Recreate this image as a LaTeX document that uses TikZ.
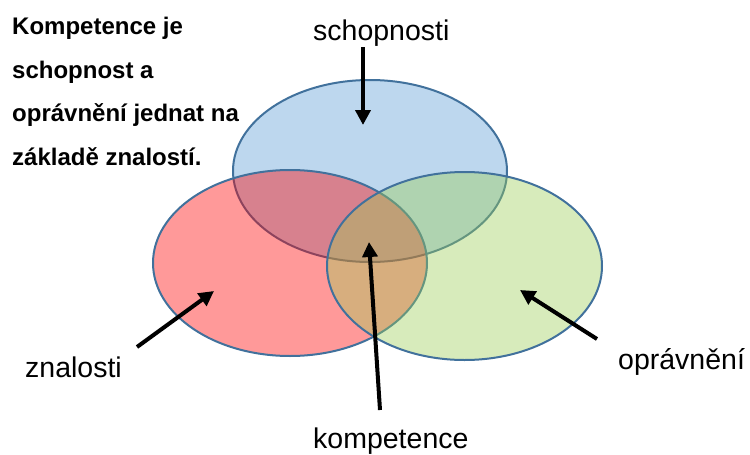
\documentclass[tikz,border=0pt]{standalone}
\usepackage{fontspec}
\setmainfont{Liberation Sans}
\usetikzlibrary{arrows.meta}
\definecolor{setline}{RGB}{65,113,156}
\definecolor{setblue}{RGB}{189,215,238}
\definecolor{setgreen}{RGB}{155,205,85}
\tikzset{
	setring/.style={line width=2pt, draw=setline},
	pointer/.style={line width=4pt, -{Triangle[length=15pt,width=15pt]}},
	label/.style={anchor=base west, inner sep=0pt, font=\fontsize{28.5}{34}\selectfont},
	headline/.style={anchor=base west, inner sep=0pt, font=\bfseries\fontsize{24}{43}\selectfont}
}

\begin{document}
\begin{tikzpicture}[x=1pt, y=-1pt]
		%%%%% START %%%%%
		
		\useasboundingbox (0, 0) rectangle (750, 455);
		
		% the three sets, blue first, the others see-through
		\draw[setring, fill=setblue] (370, 171) ellipse (137pt and 91pt);
		\draw[setring, fill=red, fill opacity=0.4] (290, 263) ellipse (137pt and 93pt);
		\draw[setring, fill=setgreen, fill opacity=0.4] (464.5, 266) ellipse (137.5pt and 94pt);
		
		% heading on the left
		\foreach \line [count=\i] in {Kompetence je, schopnost a, oprávnění jednat na, základě znalostí.}
			\node[headline] (head\i) at (12, 34.5+43.5*\i-43.5) {\line};
		
		% labels
		\node[label] (schop) at (313, 40) {schopnosti};
		\node[label] (znal) at (25, 377) {znalosti};
		\node[label] (oprav) at (618, 369) {oprávnění};
		\node[label] (komp) at (313, 448) {kompetence};
		
		\coordinate (schopTail) at (363, 47);
		\coordinate (schopTip) at (363, 125);
		\coordinate (znalTail) at (137, 347);
		\coordinate (znalTip) at (214, 291);
		\coordinate (opravTail) at (597, 339);
		\coordinate (opravTip) at (520, 290);
		\coordinate (kompTail) at (380, 410);
		\coordinate (kompTip) at (369, 242);
		
		\draw[pointer] (schopTail) -- (schopTip);
		\draw[pointer] (znalTail) -- (znalTip);
		\draw[pointer] (opravTail) -- (opravTip);
		\draw[pointer] (kompTail) -- (kompTip);
		
		%%%%% END %%%%%
	\end{tikzpicture}
\end{document}
